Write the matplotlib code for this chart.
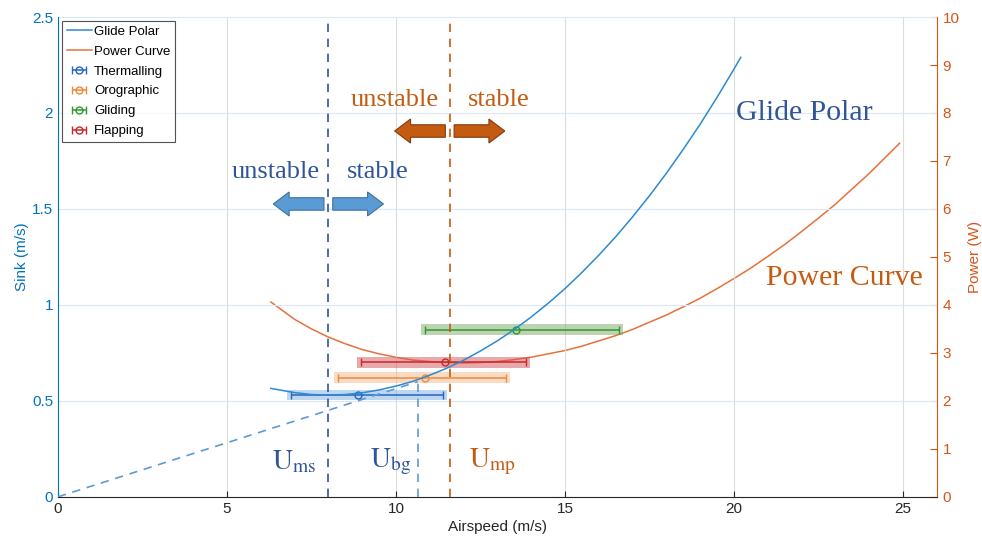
import matplotlib.pyplot as plt
import numpy as np
from matplotlib.patches import FancyArrow

plt.rcParams['font.family'] = ['Liberation Sans', 'DejaVu Sans']
plt.rcParams['mathtext.fontset'] = 'stix'

# glide polar (airspeed m/s, sink m/s)
polar_v = [6.3, 7.0, 7.5, 8.0, 8.5, 9.0, 9.5, 10.0, 10.5, 11.0, 11.5, 12.0, 12.5, 13.0, 13.5,
           14.0, 14.5, 15.0, 15.5, 16.0, 16.5, 17.0, 17.5, 18.0, 18.5, 19.0, 19.5, 20.0, 20.2]
polar_s = [0.565, 0.543, 0.533, 0.530, 0.533, 0.542, 0.557, 0.577, 0.602, 0.634, 0.670, 0.712,
           0.760, 0.813, 0.872, 0.937, 1.008, 1.085, 1.169, 1.259, 1.355, 1.459, 1.569, 1.686,
           1.811, 1.942, 2.082, 2.229, 2.290]

# power curve (airspeed m/s, power W)
power_v = [6.3, 7.0, 7.5, 8.0, 8.5, 9.0, 9.5, 10.0, 10.5, 11.0, 11.5, 12.0, 12.5, 13.0, 13.5,
           14.0, 14.5, 15.0, 15.5, 16.0, 16.5, 17.0, 17.5, 18.0, 18.5, 19.0, 19.5, 20.0, 20.5,
           21.0, 21.5, 22.0, 22.5, 23.0, 23.5, 24.0, 24.5, 24.9]
power_p = [4.06, 3.70, 3.50, 3.33, 3.19, 3.07, 2.98, 2.91, 2.85, 2.82, 2.80, 2.79, 2.80, 2.82,
           2.86, 2.91, 2.98, 3.05, 3.14, 3.25, 3.36, 3.49, 3.64, 3.79, 3.96, 4.14, 4.34, 4.55,
           4.77, 5.01, 5.26, 5.53, 5.81, 6.10, 6.42, 6.74, 7.09, 7.37]

# flight modes: centre speed, sink, min speed, max speed
modes = ['Thermalling', 'Orographic', 'Gliding', 'Flapping']
mode_v = [8.87, 10.87, 13.56, 11.46]
mode_s = [0.53, 0.62, 0.87, 0.70]
mode_lo = [6.89, 8.28, 10.87, 8.98]
mode_hi = [11.38, 13.26, 16.59, 13.85]
mode_line = ['#2166c4', '#f0883a', '#2e9a2e', '#c8282a']
mode_band = ['#7fafe0', '#f5b98a', '#7fa866', '#d2555a']

u_ms, u_bg, u_mp = 8.0, 10.64, 11.6
s_bg = 0.60

blue = '#0072BD'
orange = '#D95319'
txt_blue = '#2F5597'
txt_orange = '#C55A11'

fig = plt.figure(figsize=(9.82, 5.49), dpi=100)
ax = fig.add_axes([0.059, 0.095, 0.895, 0.874])
ax2 = ax.twinx()

ax.plot(polar_v, polar_s, color='#2b8ad2', lw=1.1, label='Glide Polar', zorder=4)
ax.plot([], [], color='#e8703a', lw=1.1, label='Power Curve')
ax2.plot(power_v, power_p, color='#e8703a', lw=1.1, zorder=4)

for i in range(len(modes)):
    ax.fill_between([mode_lo[i] - 0.12, mode_hi[i] + 0.12], mode_s[i] - 0.028, mode_s[i] + 0.028,
                    color=mode_band[i], alpha=0.5, lw=0, zorder=2)
    xerr = [[mode_v[i] - mode_lo[i]], [mode_hi[i] - mode_v[i]]]
    ax.errorbar([mode_v[i]], [mode_s[i]], xerr=xerr, fmt='o', color=mode_line[i], mfc='none',
                ms=5, lw=1.1, capsize=3, capthick=1, label=modes[i], zorder=3)

ax.plot([u_ms, u_ms], [0, 2.5], color=txt_blue, ls=(0, (5, 4)), lw=1.2, zorder=3)
ax.plot([u_bg, u_bg], [0, s_bg], color='#5b9bd5', ls=(0, (5, 4)), lw=1.2, zorder=3)
ax.plot([0, u_bg], [0, s_bg], color='#5b9bd5', ls=(0, (5, 4)), lw=1.2, zorder=3)
ax.plot([u_mp, u_mp], [0, 2.5], color=txt_orange, ls=(0, (5, 4)), lw=1.2, zorder=3)

# stability arrows
hw, bw, hl = 0.125, 0.065, 0.47
ax.add_patch(FancyArrow(7.87, 1.526, -1.5, 0, width=bw, head_width=hw, head_length=hl,
                        length_includes_head=True, fc='#5b9bd5', ec='#41719c', lw=0.8, zorder=5))
ax.add_patch(FancyArrow(8.13, 1.526, 1.5, 0, width=bw, head_width=hw, head_length=hl,
                        length_includes_head=True, fc='#5b9bd5', ec='#41719c', lw=0.8, zorder=5))
ax.add_patch(FancyArrow(11.46, 1.906, -1.5, 0, width=bw, head_width=hw, head_length=hl,
                        length_includes_head=True, fc='#c55a11', ec='#843c0c', lw=0.8, zorder=5))
ax.add_patch(FancyArrow(11.72, 1.906, 1.5, 0, width=bw, head_width=hw, head_length=hl,
                        length_includes_head=True, fc='#c55a11', ec='#843c0c', lw=0.8, zorder=5))

serif = ['Liberation Serif', 'DejaVu Serif']
ax.text(6.45, 1.69, 'unstable', family=serif, fontsize=19, color=txt_blue, ha='center', va='center')
ax.text(9.45, 1.69, 'stable', family=serif, fontsize=19, color=txt_blue, ha='center', va='center')
ax.text(9.95, 2.07, 'unstable', family=serif, fontsize=19, color=txt_orange, ha='center', va='center')
ax.text(13.05, 2.07, 'stable', family=serif, fontsize=19, color=txt_orange, ha='center', va='center')
ax.text(20.05, 2.0, 'Glide Polar', family=serif, fontsize=21.5, color=txt_blue, ha='left', va='center')
ax.text(20.94, 1.14, 'Power Curve', family=serif, fontsize=21.5, color=txt_orange, ha='left', va='center')
ax.text(7.0, 0.18, r'$\mathrm{U}_{\mathrm{ms}}$', fontsize=20, color=txt_blue, ha='center', va='center')
ax.text(9.85, 0.18, r'$\mathrm{U}_{\mathrm{bg}}$', fontsize=20, color=txt_blue, ha='center', va='center')
ax.text(12.85, 0.18, r'$\mathrm{U}_{\mathrm{mp}}$', fontsize=20, color=txt_orange, ha='center', va='center')

ax.set_xlim(0, 26)
ax.set_ylim(0, 2.5)
ax2.set_ylim(0, 10)
ax.set_xticks([0, 5, 10, 15, 20, 25])
ax.set_yticks([0, 0.5, 1, 1.5, 2, 2.5])
ax.set_yticklabels(['0', '0.5', '1', '1.5', '2', '2.5'])
ax2.set_yticks(range(11))

ax.grid(True, axis='x', color='#dcdcdc', lw=0.8)
ax.grid(True, axis='y', color='#dbe8f5', lw=0.8)
ax.set_axisbelow(True)

ax.spines['top'].set_visible(False)
ax.spines['right'].set_visible(False)
ax2.spines['top'].set_visible(False)
ax.spines['left'].set_color(blue)
ax2.spines['left'].set_visible(False)
ax2.spines['right'].set_color(orange)
ax.spines['bottom'].set_color('#262626')
ax2.spines['bottom'].set_visible(False)
ax.tick_params(axis='y', colors=blue, direction='in', labelsize=11, length=0)
ax.tick_params(axis='x', colors='#262626', direction='in', labelsize=11, length=4)
ax2.tick_params(axis='y', colors=orange, direction='in', labelsize=11, length=5, pad=4)

ax.set_xlabel('Airspeed (m/s)', fontsize=11, color='#262626', labelpad=3)
ax.set_ylabel('Sink (m/s)', fontsize=11, color=blue, labelpad=2)
ax2.set_ylabel('Power (W)', fontsize=11, color=orange, labelpad=6)

leg = ax.legend(loc='upper left', fontsize=9.5, frameon=True, fancybox=False, edgecolor='#262626',
                handlelength=1.9, borderpad=0.35, labelspacing=0.58, borderaxespad=0.3,
                handletextpad=0.2)
leg.get_frame().set_linewidth(0.8)
ax.set_zorder(ax2.get_zorder() + 1)
ax.patch.set_visible(False)

fig.savefig('out.png', dpi=100)
